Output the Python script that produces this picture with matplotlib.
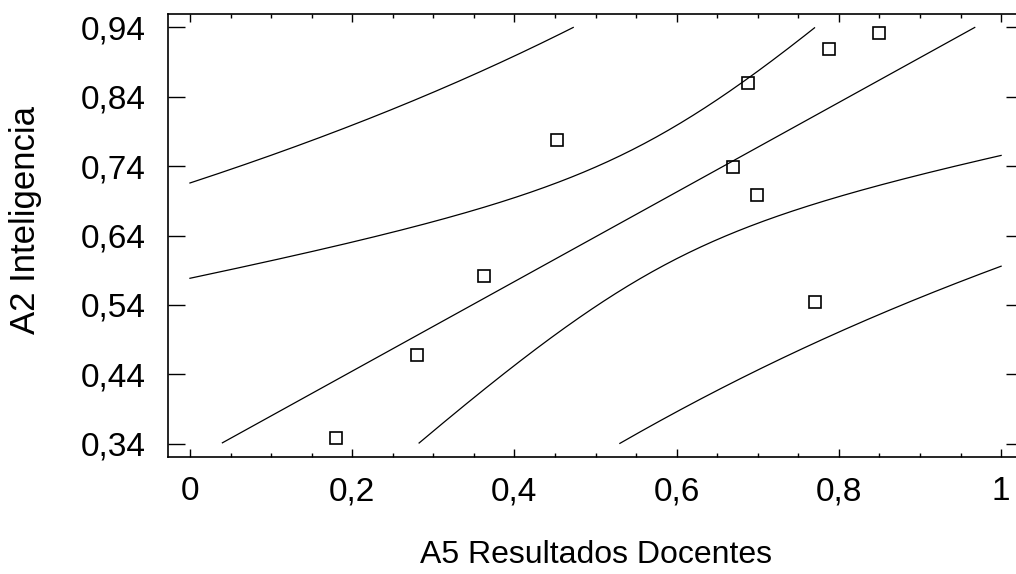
import numpy as np
import matplotlib
matplotlib.use("Agg")
import matplotlib.pyplot as plt
from matplotlib.ticker import MultipleLocator

resultados_docentes = [0.180, 0.280, 0.362, 0.452, 0.670, 0.688, 0.699, 0.770, 0.788, 0.850]
inteligencia = [0.348, 0.468, 0.582, 0.778, 0.739, 0.860, 0.698, 0.544, 0.909, 0.932]

x_ticks = [0, 0.2, 0.4, 0.6, 0.8, 1.0]
x_tick_labels = ["0", "0,2", "0,4", "0,6", "0,8", "1"]
y_ticks = [0.34, 0.44, 0.54, 0.64, 0.74, 0.84, 0.94]
y_tick_labels = ["0,34", "0,44", "0,54", "0,64", "0,74", "0,84", "0,94"]

plt.rcParams["font.family"] = ["Liberation Sans", "DejaVu Sans"]

# Simple linear regression with 95% confidence and prediction limits
x = np.array(resultados_docentes)
y = np.array(inteligencia)
n = len(x)
slope, intercept = np.polyfit(x, y, 1)
resid = y - (intercept + slope * x)
s = np.sqrt(np.sum(resid ** 2) / (n - 2))
sxx = np.sum((x - x.mean()) ** 2)
t_val = 2.306  # t(0.975, df=8)

xg = np.linspace(0, 1, 401)
fit = intercept + slope * xg
se_mean = s * np.sqrt(1 / n + (xg - x.mean()) ** 2 / sxx)
se_pred = s * np.sqrt(1 + 1 / n + (xg - x.mean()) ** 2 / sxx)
curves = [fit, fit - t_val * se_mean, fit + t_val * se_mean,
          fit - t_val * se_pred, fit + t_val * se_pred]

fig = plt.figure(figsize=(10.16, 5.74), dpi=100)
ax = fig.add_axes([0.1654, 0.2038, 0.8415, 0.7718])

for c in curves:
    c = np.where((c >= 0.34) & (c <= 0.94), c, np.nan)
    ax.plot(xg, c, color="black", lw=0.9)

ax.plot(x, y, "s", ms=9, mfc="none", mec="black", mew=1.2)

ax.set_xlim(-0.027, 1.027)
ax.set_ylim(0.321, 0.959)

ax.set_xticks(x_ticks)
ax.set_xticklabels(x_tick_labels)
ax.xaxis.set_minor_locator(MultipleLocator(0.05))
ax.set_yticks(y_ticks)
ax.set_yticklabels(y_tick_labels)

ax.tick_params(axis="x", which="major", direction="in", top=True, length=6, width=1, labelsize=24, pad=14)
ax.tick_params(axis="x", which="minor", direction="in", top=True, length=3, width=1)
ax.tick_params(axis="y", which="major", direction="in", right=True, length=12, width=1, labelsize=24, pad=16)
for sp in ax.spines.values():
    sp.set_linewidth(1.2)
ax.spines["right"].set_visible(False)

ax.set_xlabel("A5 Resultados Docentes", fontsize=23)
ax.set_ylabel("A2 Inteligencia", fontsize=25)
ax.xaxis.set_label_coords(0.5, -0.187)
ax.yaxis.set_label_coords(-0.147, 0.536)

plt.savefig("out.png", dpi=100)
